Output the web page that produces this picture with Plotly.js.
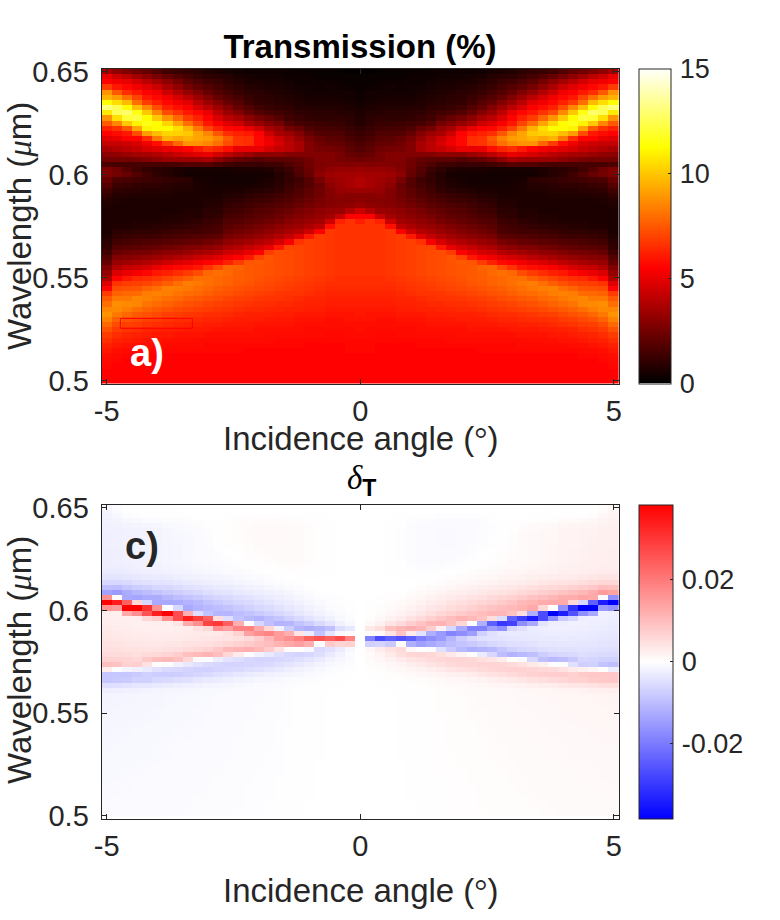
<!DOCTYPE html>
<html><head><meta charset="utf-8">
<script src="https://cdn.plot.ly/plotly-3.0.1.min.js"></script>
<style>html,body{margin:0;padding:0;background:#fff}</style></head>
<body><div id="chart" style="width:780px;height:920px"></div>
<script>
const angles=[-5,-4.8,-4.6,-4.4,-4.2,-4,-3.8,-3.6,-3.4,-3.2,-3,-2.8,-2.6,-2.4,-2.2,-2,-1.8,-1.6,-1.4,-1.2,-1,-0.8,-0.6,-0.4,-0.2,0,0.2,0.4,0.6,0.8,1,1.2,1.4,1.6,1.8,2,2.2,2.4,2.6,2.8,3,3.2,3.4,3.6,3.8,4,4.2,4.4,4.6,4.8,5];
const wavelengths=[0.5,0.5025,0.505,0.5075,0.51,0.5125,0.515,0.5175,0.52,0.5225,0.525,0.5275,0.53,0.5325,0.535,0.5375,0.54,0.5425,0.545,0.5475,0.55,0.5525,0.555,0.5575,0.56,0.5625,0.565,0.5675,0.57,0.5725,0.575,0.5775,0.58,0.5825,0.585,0.5875,0.59,0.5925,0.595,0.5975,0.6,0.6025,0.605,0.6075,0.61,0.6125,0.615,0.6175,0.62,0.6225,0.625,0.6275,0.63,0.6325,0.635,0.6375,0.64,0.6425,0.645,0.6475,0.65];
const wavelengthsC=[0.50125,0.50375,0.50625,0.50875,0.51125,0.51375,0.51625,0.51875,0.52125,0.52375,0.52625,0.52875,0.53125,0.53375,0.53625,0.53875,0.54125,0.54375,0.54625,0.54875,0.55125,0.55375,0.55625,0.55875,0.56125,0.56375,0.56625,0.56875,0.57125,0.57375,0.57625,0.57875,0.58125,0.58375,0.58625,0.58875,0.59125,0.59375,0.59625,0.59875,0.60125,0.60375,0.60625,0.60875,0.61125,0.61375,0.61625,0.61875,0.62125,0.62375,0.62625,0.62875,0.63125,0.63375,0.63625,0.63875,0.64125,0.64375,0.64625,0.64875,0.65125];
// Transmission, tenths of a percent, one list per angle from -5 to 0, bottom row first
const T00=[55,55,55,56,57,58,60,62,65,68,73,78,84,88,85,80,75,68,55,48,38,32,28,22,18,14,11,9,7,6,6,6,6,6,7,8,11,14,18,22,27,27,16,25,30,36,42,48,55,62,75,88,108,131,112,95,88,68,55,50,36];
const T01=[55,55,55,55,56,57,58,60,62,65,68,72,77,82,86,87,82,77,72,66,55,47,38,32,28,22,18,14,11,9,7,6,6,6,6,7,8,10,13,16,25,24,15,25,31,38,43,50,57,66,85,105,125,125,105,90,75,60,52,44,31];
const T02=[55,55,55,55,55,56,57,59,61,63,66,69,73,78,83,86,82,78,73,68,60,50,42,34,29,24,19,15,12,9,7,6,6,6,6,6,8,9,12,15,22,18,15,25,33,40,44,55,60,75,100,120,128,112,97,80,65,56,50,40,27];
const T03=[55,55,55,55,55,56,57,58,60,62,65,68,71,75,80,85,85,79,74,69,64,53,44,36,30,25,20,16,13,10,8,7,6,6,6,6,7,9,11,14,18,14,15,26,35,42,47,55,72,92,110,122,115,98,80,70,60,52,45,35,24];
const T04=[55,55,55,55,55,55,56,58,59,61,63,66,69,73,77,81,84,83,77,70,65,56,46,38,32,26,21,17,13,10,8,7,6,6,6,6,7,8,10,13,14,11,15,28,36,46,52,65,90,110,116,112,100,85,68,60,55,48,40,30,22];
const T05=[55,55,55,55,55,55,56,57,59,60,62,65,68,71,75,79,82,84,80,73,67,60,50,41,34,28,22,18,14,11,9,7,6,6,6,6,7,8,10,12,10,9,15,30,38,48,58,82,98,112,112,100,86,72,62,56,52,44,35,26,18];
const T06=[55,55,55,55,55,55,56,57,58,60,61,64,66,69,73,77,80,83,84,76,70,62,54,44,36,30,24,19,15,12,9,8,7,6,6,6,7,8,9,11,8,8,15,33,40,50,68,95,103,112,103,88,72,62,56,52,44,37,30,22,14];
const T07=[55,55,55,55,55,55,56,57,58,59,61,63,65,68,71,75,78,81,83,80,73,65,56,47,38,31,25,20,16,13,10,8,7,6,6,6,6,7,8,10,6,6,16,33,43,52,78,92,102,105,92,78,66,58,52,46,38,31,25,18,12];
const T08=[55,55,55,55,55,55,56,57,58,59,60,62,65,67,70,73,76,79,82,83,76,68,58,49,40,33,27,21,17,14,11,9,8,7,6,6,6,7,8,9,4,5,18,33,46,55,88,95,100,95,80,68,60,54,48,40,32,25,20,15,11];
const T09=[55,55,55,55,55,55,56,57,57,59,60,62,64,66,69,72,75,78,80,82,80,72,60,52,43,35,28,22,18,14,12,10,8,7,6,6,6,6,6,5,4,5,18,34,48,60,88,92,92,82,70,62,56,46,40,34,27,21,17,12,9];
const T10=[55,55,55,55,55,55,56,56,57,58,60,61,63,65,68,70,73,76,78,80,80,78,66,55,45,37,30,24,19,15,14,12,10,9,8,7,6,6,5,5,4,5,18,36,50,65,85,90,85,70,60,55,50,40,33,28,22,18,14,10,7];
const T11=[55,55,55,55,55,55,56,56,57,58,59,61,63,65,67,69,72,74,76,78,78,80,72,57,48,39,32,26,20,16,15,13,11,9,8,7,6,5,5,4,4,5,16,30,45,62,80,84,74,62,54,47,40,34,28,22,18,15,12,9,6];
const T12=[55,55,55,55,55,55,56,56,57,58,59,60,62,64,66,68,70,73,75,77,77,78,78,62,52,44,37,31,26,22,19,17,15,13,11,9,7,6,5,4,4,5,14,25,40,58,72,75,65,56,48,40,33,28,22,18,15,12,10,8,5];
const T13=[55,55,55,55,55,55,56,56,57,58,59,60,61,63,65,67,69,71,73,75,76,76,77,68,55,46,39,33,28,24,21,18,16,14,12,10,8,6,5,4,4,6,12,22,36,50,66,66,62,55,44,36,28,22,18,15,12,10,8,6,4];
const T14=[55,55,55,55,55,55,55,56,57,58,59,60,61,62,64,66,68,70,72,74,75,75,75,74,60,50,42,35,30,26,23,20,18,16,14,12,9,7,5,4,4,6,12,20,33,50,65,65,60,50,36,30,22,18,14,12,10,8,6,5,3];
const T15=[55,55,55,55,55,55,55,56,57,58,58,59,61,62,64,65,67,69,71,72,73,74,74,75,70,55,45,38,32,28,25,22,20,18,16,13,11,8,6,5,4,6,12,18,30,50,56,56,55,44,32,25,18,14,11,10,9,7,6,4,3];
const T16=[55,55,55,55,55,55,55,56,57,57,58,59,60,62,63,65,66,68,70,71,72,73,73,73,74,68,50,41,35,31,27,24,21,19,17,14,12,9,7,6,5,7,13,20,30,46,52,50,44,36,28,22,15,12,10,9,8,6,5,4,3];
const T17=[55,55,55,55,55,55,55,56,56,57,58,59,60,61,63,64,66,67,69,70,71,72,72,72,72,72,60,46,38,33,30,26,23,21,18,16,14,11,9,8,8,10,14,20,30,42,46,44,36,32,25,18,14,11,9,8,7,6,5,4,3];
const T18=[55,55,55,55,55,55,55,56,56,57,58,59,60,61,62,64,65,66,68,69,70,71,71,71,71,71,70,53,42,36,32,29,26,23,20,18,16,14,12,11,11,13,17,20,28,40,40,38,33,25,18,14,12,10,8,7,6,5,4,3,3];
const T19=[55,55,55,55,55,55,55,56,56,57,58,58,59,60,62,63,64,66,67,68,69,70,70,70,70,70,70,66,48,39,34,31,28,26,23,20,18,17,15,14,17,18,20,22,28,36,36,32,28,22,15,12,10,8,7,6,5,4,3,3,2];
const T20=[55,55,55,55,55,55,55,55,56,57,57,58,59,60,61,62,63,65,66,67,68,69,69,69,69,69,69,69,60,44,37,33,30,28,25,23,21,20,18,18,22,23,24,24,28,28,28,26,22,17,14,11,9,8,6,5,4,4,3,3,2];
const T21=[55,55,55,55,55,55,55,55,56,57,57,58,59,60,61,62,63,64,65,66,67,68,68,68,68,68,68,68,68,54,40,35,32,30,27,26,24,24,23,26,30,28,27,28,28,26,24,22,18,15,13,10,9,7,6,5,4,3,3,2,2];
const T22=[55,55,55,55,55,55,55,55,56,56,57,58,58,59,60,61,62,63,64,65,66,67,67,67,67,67,67,67,67,67,58,44,35,32,29,28,28,28,30,32,34,31,28,28,28,25,22,20,17,15,12,10,9,7,6,5,4,4,3,2,2];
const T23=[55,55,55,55,55,55,55,55,56,56,57,58,58,59,60,61,62,63,64,65,65,66,66,66,66,66,66,66,66,66,66,62,42,33,30,29,30,32,33,34,35,32,29,26,26,24,21,19,17,14,12,10,8,7,6,5,4,3,3,2,2];
const T24=[55,55,55,55,55,55,56,56,56,57,57,58,59,59,60,61,62,63,64,65,65,66,66,66,66,66,66,66,66,66,66,66,55,38,31,29,29,33,36,36,35,32,28,25,22,20,18,16,14,12,10,9,8,6,5,4,4,3,2,2,1];
const T25=[55,55,55,55,55,55,56,56,56,57,58,58,59,60,60,61,62,63,64,65,65,66,66,66,66,66,66,66,66,66,66,61,55,44,33,30,29,33,38,38,36,33,29,24,21,18,16,14,12,10,8,7,6,5,4,3,3,2,2,2,1];
// delta T, units of 0.0001, one list per angle from -5 to 0, bottom row first
const D00=[-8,-8,-8,-9,-9,-9,-10,-10,-10,-10,-11,-11,-11,-12,-12,-12,-13,-13,-14,-14,-15,-15,-16,-17,-25,-50,-85,-85,25,96,70,55,48,42,38,35,32,28,25,25,165,384,165,-140,-95,-60,-40,-30,-26,-25,-25,-25,-24,-24,-24,-23,-22,-20,-18,-14,-12];
const D01=[-8,-8,-8,-8,-9,-9,-9,-10,-10,-10,-10,-11,-11,-11,-12,-12,-12,-13,-13,-14,-14,-15,-15,-16,-24,-48,-82,-85,2,90,68,54,46,40,36,32,29,26,24,22,150,340,8,-150,-100,-60,-40,-30,-26,-24,-24,-24,-23,-23,-23,-22,-20,-17,-12,-6,-4];
const D02=[-8,-8,-8,-8,-8,-9,-9,-9,-9,-10,-10,-10,-11,-11,-11,-12,-12,-12,-13,-13,-14,-14,-15,-15,-22,-42,-78,-85,-15,70,65,52,44,38,34,30,27,25,22,130,384,240,-130,-125,-85,-55,-38,-28,-24,-22,-22,-22,-22,-21,-21,-20,-18,-12,-4,-2,-2];
const D03=[-7,-7,-8,-8,-8,-8,-8,-9,-9,-9,-10,-10,-10,-10,-11,-11,-11,-12,-12,-13,-13,-14,-14,-15,-20,-38,-70,-80,-22,72,60,50,42,37,32,28,25,22,25,170,384,60,-135,-110,-75,-50,-35,-26,-23,-21,-21,-21,-20,-20,-20,-19,-17,-10,-3,-2,-2];
const D04=[-7,-7,-7,-8,-8,-8,-8,-8,-9,-9,-9,-10,-10,-10,-10,-11,-11,-11,-12,-12,-13,-13,-14,-14,-18,-38,-70,-70,-32,45,82,55,44,36,31,27,24,22,60,260,310,-60,-125,-100,-70,-45,-32,-24,-21,-19,-19,-19,-18,-18,-18,-18,-15,-8,-2,-2,-2];
const D05=[-7,-7,-7,-7,-7,-8,-8,-8,-8,-8,-9,-9,-9,-10,-10,-10,-10,-11,-11,-12,-12,-13,-13,-13,-16,-32,-60,-75,-45,5,100,58,44,36,30,27,24,25,80,340,165,-130,-125,-90,-62,-42,-30,-22,-19,-17,-17,-17,-17,-16,-16,-16,-13,-7,-2,-1,-1];
const D06=[-6,-6,-7,-7,-7,-7,-7,-8,-8,-8,-8,-9,-9,-9,-9,-10,-10,-10,-11,-11,-11,-12,-12,-12,-15,-28,-55,-75,-55,-5,105,65,46,37,31,27,24,26,170,384,0,-130,-110,-80,-58,-40,-28,-20,-17,-15,-15,-15,-15,-14,-14,-14,-11,-5,-1,-1,-1];
const D07=[-6,-6,-6,-6,-7,-7,-7,-7,-7,-8,-8,-8,-8,-9,-9,-9,-9,-10,-10,-10,-11,-11,-11,-12,-14,-25,-50,-72,-60,-22,95,75,50,38,32,28,26,40,270,270,-60,-125,-100,-72,-52,-36,-26,-18,-15,-13,-13,-13,-13,-12,-12,-11,-9,-4,-1,-1,0];
const D08=[-5,-5,-6,-6,-6,-6,-7,-7,-7,-7,-7,-8,-8,-8,-8,-9,-9,-9,-9,-10,-10,-10,-11,-11,-13,-22,-45,-68,-65,-35,60,95,55,42,35,30,28,130,340,120,-130,-115,-90,-65,-46,-32,-22,-16,-13,-11,-11,-10,-10,-10,-10,-9,-7,-3,-1,0,0];
const D09=[-5,-5,-5,-5,-6,-6,-6,-6,-6,-7,-7,-7,-7,-8,-8,-8,-8,-9,-9,-9,-9,-10,-10,-10,-12,-20,-38,-62,-70,-45,8,105,60,45,36,31,45,170,290,-50,-115,-105,-80,-58,-40,-28,-20,-14,-11,-9,-8,-8,-8,-7,-7,-6,-4,-2,0,0,0];
const D10=[-5,-5,-5,-5,-5,-5,-6,-6,-6,-6,-6,-7,-7,-7,-7,-7,-8,-8,-8,-8,-9,-9,-9,-10,-11,-17,-32,-55,-70,-55,-5,115,70,48,38,32,60,285,240,-90,-105,-90,-70,-50,-36,-25,-18,-12,-9,-7,-6,-6,-5,-4,-4,-3,-2,-1,0,0,0];
const D11=[-4,-4,-5,-5,-5,-5,-5,-5,-5,-6,-6,-6,-6,-6,-7,-7,-7,-7,-7,-8,-8,-8,-8,-9,-10,-15,-28,-48,-65,-62,-25,100,85,52,40,34,165,300,50,-110,-100,-80,-62,-44,-32,-22,-16,-10,-7,-5,-4,-3,-2,-1,0,1,1,1,0,0,0];
const D12=[-4,-4,-4,-4,-4,-5,-5,-5,-5,-5,-5,-6,-6,-6,-6,-6,-6,-7,-7,-7,-7,-7,-8,-8,-9,-13,-24,-42,-60,-65,-40,60,105,60,42,45,145,240,-50,-110,-90,-70,-55,-40,-28,-20,-14,-8,-5,-3,-2,0,1,2,3,3,3,2,1,0,0];
const D13=[-3,-3,-4,-4,-4,-4,-4,-4,-4,-4,-5,-5,-5,-5,-5,-5,-6,-6,-6,-6,-6,-7,-7,-7,-8,-11,-20,-36,-55,-65,-50,30,115,70,46,70,190,120,-90,-100,-80,-62,-48,-35,-25,-17,-11,-6,-3,-1,0,2,3,4,5,5,5,4,2,0,0];
const D14=[-3,-3,-3,-3,-3,-3,-4,-4,-4,-4,-4,-4,-4,-5,-5,-5,-5,-5,-5,-6,-6,-6,-6,-6,-7,-9,-17,-30,-50,-62,-60,-5,120,80,55,145,190,5,-105,-90,-70,-55,-42,-30,-21,-14,-8,-4,-1,1,3,4,5,6,6,7,6,5,3,0,0];
const D15=[-3,-3,-3,-3,-3,-3,-3,-3,-3,-4,-4,-4,-4,-4,-4,-4,-4,-5,-5,-5,-5,-5,-5,-6,-6,-8,-14,-26,-45,-60,-65,-20,105,90,75,170,130,-60,-115,-80,-60,-48,-36,-26,-18,-11,-6,-2,1,3,5,6,7,8,8,8,7,6,3,0,0];
const D16=[-2,-2,-2,-3,-3,-3,-3,-3,-3,-3,-3,-3,-3,-4,-4,-4,-4,-4,-4,-4,-4,-5,-5,-5,-5,-7,-12,-22,-38,-55,-65,-35,80,100,110,185,60,-95,-100,-70,-52,-40,-30,-22,-14,-8,-3,0,3,5,6,8,9,9,9,9,8,6,3,0,0];
const D17=[-2,-2,-2,-2,-2,-2,-2,-2,-3,-3,-3,-3,-3,-3,-3,-3,-3,-3,-3,-3,-4,-4,-4,-4,-4,-6,-10,-18,-32,-48,-60,-50,45,115,150,150,-20,-115,-85,-60,-44,-33,-25,-18,-11,-5,-1,2,4,6,7,8,9,9,9,9,8,6,3,0,0];
const D18=[-1,-1,-2,-2,-2,-2,-2,-2,-2,-2,-2,-2,-2,-2,-2,-2,-2,-3,-3,-3,-3,-3,-3,-3,-3,-4,-8,-15,-26,-40,-55,-60,5,130,170,120,-75,-110,-70,-50,-36,-27,-20,-14,-8,-3,0,3,5,6,7,8,8,8,8,8,7,5,2,0,0];
const D19=[-1,-1,-1,-1,-1,-1,-1,-1,-1,-1,-2,-2,-2,-2,-2,-2,-2,-2,-2,-2,-2,-2,-2,-2,-2,-3,-6,-12,-20,-32,-48,-65,0,145,195,40,-110,-90,-55,-38,-28,-20,-14,-9,-5,-1,1,3,5,6,7,7,7,7,7,7,6,4,2,0,0];
const D20=[0,0,0,-1,-1,-1,-1,-1,-1,-1,-1,-1,-1,-1,-1,-1,-1,-1,-1,-1,-1,-1,-1,-1,-1,-2,-4,-9,-15,-26,-40,-60,-10,120,240,-30,-120,-75,-42,-28,-20,-14,-9,-5,-2,0,1,2,3,4,5,5,5,5,5,5,4,3,1,0,0];
const D21=[0,0,0,0,0,0,0,0,0,0,0,-1,-1,-1,-1,-1,-1,-1,-1,-1,-1,-1,-1,-1,-1,-1,-3,-6,-10,-18,-30,-50,-55,5,260,-90,-110,-55,-30,-20,-13,-9,-5,-2,0,0,1,1,2,2,3,3,3,3,3,3,2,2,1,0,0];
const D22=[0,0,0,0,0,0,0,0,0,0,0,0,0,0,0,0,0,0,0,0,0,0,0,0,-1,-1,-2,-4,-7,-12,-20,-32,-45,80,240,-40,-95,-40,-20,-12,-8,-5,-3,-1,0,0,0,1,1,1,1,1,1,1,1,1,1,1,0,0,0];
const D23=[0,0,0,0,0,0,0,0,0,0,0,0,0,0,0,0,0,0,0,0,0,0,0,0,0,-1,-1,-2,-4,-8,-12,-18,-30,65,270,-10,-50,-22,-10,-6,-4,-2,-1,0,0,0,0,0,0,0,0,0,0,0,0,0,0,0,0,0,0];
const D24=[0,0,0,0,0,0,0,0,0,0,0,0,0,0,0,0,0,0,0,0,0,0,0,0,0,0,0,-1,-2,-4,-6,-8,-12,70,190,-8,-35,-10,-5,-3,-2,-1,0,0,0,0,0,0,0,0,0,0,0,0,0,0,0,0,0,0,0];
const D25=[0,0,0,0,0,0,0,0,0,0,0,0,0,0,0,0,0,0,0,0,0,0,0,0,0,0,0,0,0,0,0,0,0,0,0,0,0,0,0,0,0,0,0,0,0,0,0,0,0,0,0,0,0,0,0,0,0,0,0,0,0];
const leftT=[T00,T01,T02,T03,T04,T05,T06,T07,T08,T09,T10,T11,T12,T13,T14,T15,T16,T17,T18,T19,T20,T21,T22,T23,T24,T25];
const leftD=[D00,D01,D02,D03,D04,D05,D06,D07,D08,D09,D10,D11,D12,D13,D14,D15,D16,D17,D18,D19,D20,D21,D22,D23,D24,D25];
// The picture is mirror symmetric in angle (a) and mirror antisymmetric (c)
const zT=wavelengths.map((_,r)=>angles.map((_,c)=>(c<=25?leftT[c][r]:leftT[50-c][r])/10));
const zD=wavelengths.map((_,r)=>angles.map((_,c)=>(c<=25?leftD[c][r]:-leftD[50-c][r])/10000));

const W=780,H=920,ink='#262626',sans='"Liberation Sans",Arial,sans-serif',fs=29,fc=27,ft=33;
const px=v=>v/W, py=v=>1-v/H;
const L=101.6,R=619, aT=69,aB=383.5, cT=505,cB=818.5, cbL=639;
const hot=[[0,'#000000'],[0.365,'#ff0000'],[0.75,'#ffff00'],[1,'#ffffff']];
const bwr=[[0,'#0000ff'],[0.5,'#ffffff'],[1,'#ff0000']];
const angleTitle='Incidence angle (<span style="font-family:\'Liberation Serif\'">°</span>)';
const waveTitle='Wavelength (<i style="font-family:\'Liberation Serif\'">μ</i>m)';
function xa(domain,anchor){return {domain,anchor,range:[-5.1,5.1],tickvals:[-5,0,5],ticktext:['-5','0','5'],ticks:'inside',ticklen:5,tickcolor:ink,showline:true,linecolor:ink,linewidth:1,mirror:'allticks',zeroline:false,showgrid:false,ticklabelstandoff:2,tickfont:{size:fs,color:ink,family:sans}};}
function ya(domain,anchor){return {domain,anchor,range:[0.49875,0.65125],tickvals:[0.5,0.55,0.6,0.65],ticktext:['0.5','0.55','0.6','0.65'],ticks:'inside',ticklen:5,tickcolor:ink,showline:true,linecolor:ink,linewidth:1,mirror:'allticks',zeroline:false,showgrid:false,ticklabelstandoff:6,tickfont:{size:fs,color:ink,family:sans}};}
function cb(top,bottom,thick,vals,text){return {x:px(cbL),xanchor:'left',xref:'paper',y:py(bottom),yanchor:'bottom',yref:'paper',len:bottom-top,lenmode:'pixels',thickness:thick,thicknessmode:'pixels',xpad:0,ypad:0,outlinecolor:ink,outlinewidth:1,ticks:'inside',ticklen:3,tickcolor:ink,tickvals:vals,ticktext:text,tickfont:{size:fc,color:ink,family:sans}};}
const traces=[
 {type:'heatmap',x:angles,y:wavelengths,z:zT,zmin:0,zmax:15,colorscale:hot,xaxis:'x',yaxis:'y',colorbar:cb(aT,aB,32,[0,5,10,15],['\u200a0','\u200a5','\u200a10','\u200a15'])},
 {type:'heatmap',x:angles,y:wavelengthsC,z:zD,zmin:-0.0384,zmax:0.0384,colorscale:bwr,xaxis:'x2',yaxis:'y2',colorbar:cb(cT,cB,34,[-0.02,0,0.02],['\u200a-0.02','\u200a0','\u200a0.02'])}
];
const note=(text,x,y,size,color,extra)=>Object.assign({text,x:px(x),y:py(y),xref:'paper',yref:'paper',xanchor:'center',yanchor:'middle',showarrow:false,font:{size,color,family:sans}},extra||{});
const layout={width:W,height:H,margin:{l:0,r:0,t:0,b:0},paper_bgcolor:'#fff',plot_bgcolor:'#fff',font:{family:sans,size:fs,color:ink},showlegend:false,
 title:{text:'<b>Transmission (%)</b>',x:360/W,xanchor:'center',xref:'paper',y:py(46),yanchor:'middle',yref:'paper',font:{size:ft,color:'#000',family:sans}},
 xaxis:xa([px(L),px(R)],'y'),yaxis:ya([py(aB),py(aT)],'x'),
 xaxis2:xa([px(L),px(R)],'y2'),yaxis2:ya([py(cB),py(cT)],'x2'),
 shapes:[{type:'rect',xref:'x',yref:'y',x0:-4.73,x1:-3.31,y0:0.5255,y1:0.5303,line:{color:'#ff0000',width:1},fillcolor:'rgba(0,0,0,0)'}],
 annotations:[
  note('<b>a)</b>',147,353,38,'#fff'),
  note('<b>c)</b>',142,546,38,ink),
  note('<i style="font-family:\'Liberation Serif\'">δ</i><sub><b>T</b></sub>',361,480,ft,'#000'),
  note(angleTitle,361,439,ft,ink),
  note(angleTitle,361,890,ft,ink),
  note(waveTitle,19,226,ft,ink,{textangle:-90}),
  note(waveTitle,19,660,ft,ink,{textangle:-90})
 ]};
Plotly.newPlot('chart',traces,layout,{displayModeBar:false,staticPlot:true});
</script></body></html>
